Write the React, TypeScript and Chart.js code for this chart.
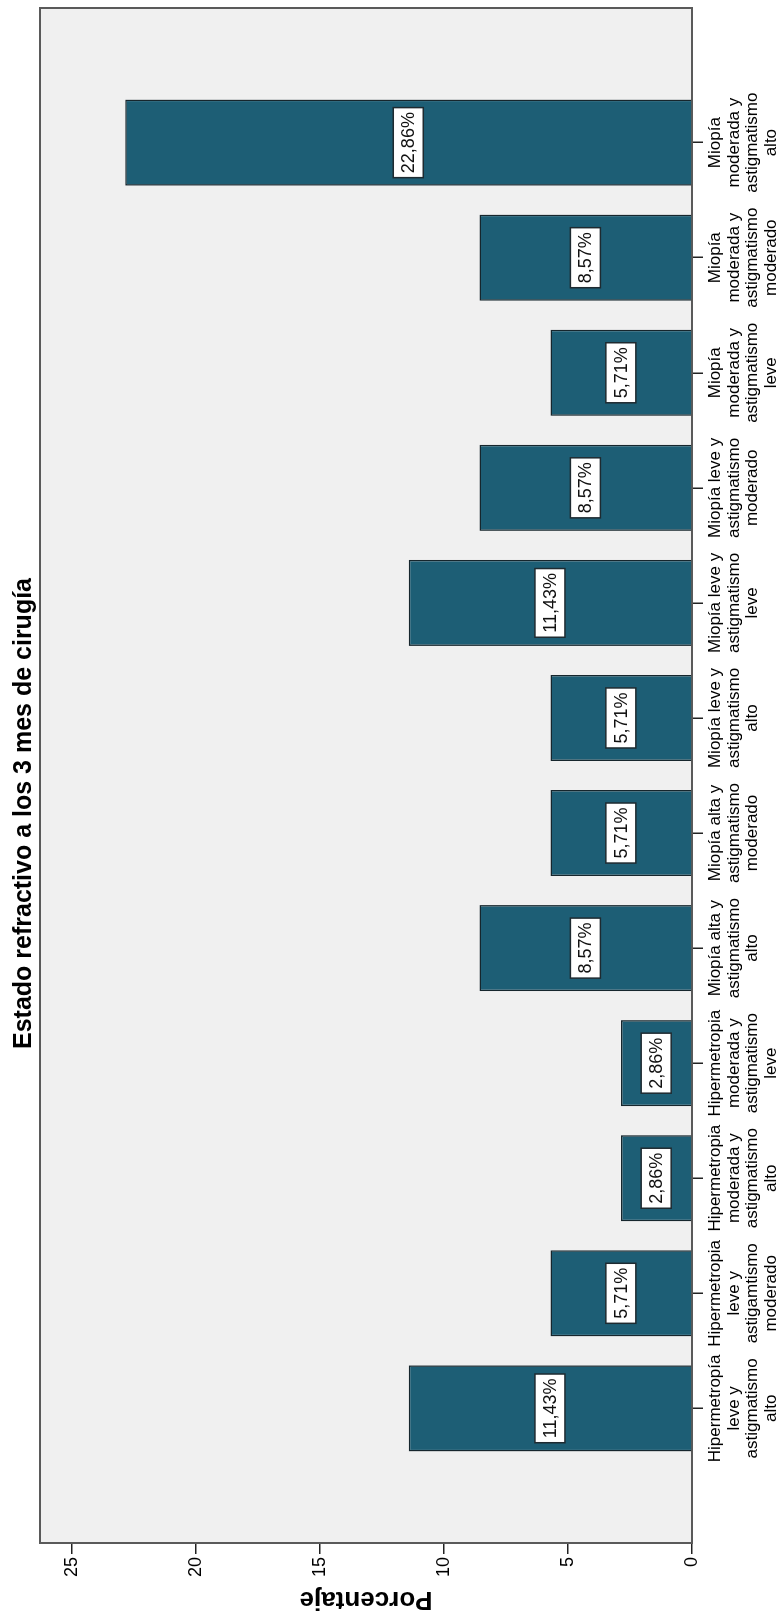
import React, { useEffect, useRef } from "react";
import { Chart, registerables } from "chart.js";

Chart.register(...registerables);

const chartTitle = "Estado refractivo a los 3 mes de cirugía";
const valueAxisTitle = "Porcentaje";

const categories: string[][] = [
  ["Hipermetropía", "leve y", "astigmatismo", "alto"],
  ["Hipermetropia", "leve y", "astigamtismo", "moderado"],
  ["Hipermetropia", "moderada y", "astigmatismo", "alto"],
  ["Hipermetropia", "moderada y", "astigmatismo", "leve"],
  ["Miopía alta y", "astigmatismo", "alto"],
  ["Miopía alta y", "astigmatismo", "moderado"],
  ["Miopía leve y", "astigmatismo", "alto"],
  ["Miopía leve y", "astigmatismo", "leve"],
  ["Miopía leve y", "astigmatismo", "moderado"],
  ["Miopía", "moderada y", "astigmatismo", "leve"],
  ["Miopía", "moderada y", "astigmatismo", "moderado"],
  ["Miopía", "moderada y", "astigmatismo", "alto"],
];

const percentages: number[] = [11.43, 5.71, 2.86, 2.86, 8.57, 5.71, 5.71, 11.43, 8.57, 5.71, 8.57, 22.86];

const valueTicks: number[] = [0, 5, 10, 15, 20, 25];

const FONT = "'Liberation Sans', Arial, Helvetica, sans-serif";
const BAR_COLOR = "#1d5e75";

const frameAndLabels = {
  id: "frameAndLabels",
  beforeDraw(chart: any) {
    const { ctx, chartArea: a } = chart;
    ctx.save();
    ctx.fillStyle = "#f0f0f0";
    ctx.fillRect(a.left, a.top, a.right - a.left, a.bottom - a.top);
    ctx.restore();
  },
  beforeDatasetsDraw(chart: any) {
    const { ctx, chartArea: a } = chart;
    ctx.save();
    ctx.strokeStyle = "#5a5a5a";
    ctx.lineWidth = 2;
    ctx.strokeRect(a.left, a.top, a.right - a.left, a.bottom - a.top);
    ctx.restore();
  },
  afterDatasetsDraw(chart: any) {
    const { ctx } = chart;
    const meta = chart.getDatasetMeta(0);
    ctx.save();
    ctx.font = `18px ${FONT}`;
    ctx.textAlign = "center";
    ctx.textBaseline = "middle";
    meta.data.forEach((el: any, i: number) => {
      const text = percentages[i].toFixed(2).replace(".", ",") + "%";
      const cx = el.x;
      const cy = (el.y + el.base) / 2;
      const w = ctx.measureText(text).width + 9;
      const h = 30;
      ctx.fillStyle = "#ffffff";
      ctx.fillRect(cx - w / 2, cy - h / 2, w, h);
      ctx.strokeStyle = "#1e2a30";
      ctx.lineWidth = 1.5;
      ctx.strokeRect(cx - w / 2, cy - h / 2, w, h);
      ctx.fillStyle = "#111";
      ctx.fillText(text, cx, cy + 1);
    });
    ctx.restore();
  },
};

export default function App() {
  const canvasRef = useRef<HTMLCanvasElement | null>(null);

  useEffect(() => {
    const canvas = canvasRef.current;
    if (!canvas) return;
    const chart = new Chart(canvas, {
      type: "bar",
      data: {
        datasets: [
          {
            data: percentages.map((v, i) => ({ x: i, y: v })),
            backgroundColor: BAR_COLOR,
            borderColor: "#16262d",
            borderWidth: 1.5,
            categoryPercentage: 1,
            barPercentage: 0.748,
          },
        ],
      },
      options: {
        animation: false,
        responsive: false,
        maintainAspectRatio: false,
        layout: { padding: { top: 6, right: 8, left: 0, bottom: 0 } },
        plugins: {
          legend: { display: false },
          tooltip: { enabled: false },
          title: {
            display: true,
            text: chartTitle,
            color: "#000",
            font: { family: FONT, size: 25, weight: "bold" },
            padding: { top: 3, bottom: 1 },
          },
        },
        scales: {
          x: {
            type: "linear",
            offset: false,
            min: -1.17,
            max: 12.17,
            afterBuildTicks: (axis: any) => {
              axis.ticks = categories.map((_, i) => ({ value: i }));
            },
            afterFit: (axis: any) => {
              axis.height = 90;
            },
            ticks: {
              autoSkip: false,
              maxRotation: 0,
              minRotation: 0,
              padding: 3,
              color: "#000",
              font: { family: FONT, size: 17, lineHeight: 1.1 },
              callback: (value: any) => categories[Math.round(Number(value))] ?? "",
            },
            grid: {
              offset: false,
              drawOnChartArea: false,
              drawTicks: true,
              tickLength: 11,
              color: "#222",
              lineWidth: 1.5,
            },
            border: { color: "#222", width: 1.5 },
          },
          y: {
            type: "linear",
            min: 0,
            max: 26.3,
            afterBuildTicks: (axis: any) => {
              axis.ticks = valueTicks.map((v) => ({ value: v }));
            },
            afterFit: (axis: any) => {
              axis.width = 76;
            },
            ticks: {
              padding: 3,
              color: "#000",
              font: { family: FONT, size: 18 },
              callback: (value: any) => String(value),
            },
            grid: {
              drawOnChartArea: false,
              drawTicks: true,
              tickLength: 11,
              color: "#222",
              lineWidth: 1.5,
            },
            border: { color: "#222", width: 1.5 },
            title: {
              display: true,
              text: valueAxisTitle,
              color: "#000",
              font: { family: FONT, size: 26, weight: "bold" },
              padding: { top: 4, bottom: 0 },
            },
          },
        },
      },
      plugins: [frameAndLabels],
    } as any);
    return () => chart.destroy();
  }, []);

  return (
    <div
      style={{
        position: "absolute",
        left: 0,
        top: 0,
        width: 782,
        height: 1619,
        overflow: "hidden",
        background: "#ffffff",
      }}
    >
      <div
        style={{
          position: "absolute",
          left: 0,
          top: 0,
          width: 1619,
          height: 782,
          transformOrigin: "0 0",
          transform: "translateY(1619px) rotate(-90deg)",
        }}
      >
        <canvas ref={canvasRef} width={1619} height={782} style={{ display: "block", width: 1619, height: 782 }} />
      </div>
    </div>
  );
}
